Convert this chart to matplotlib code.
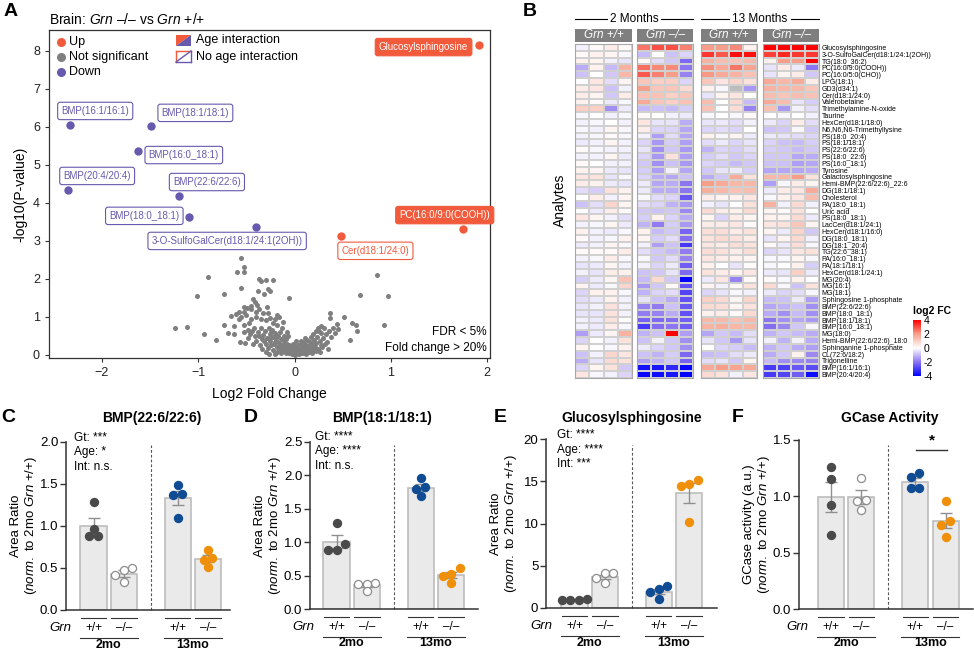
import numpy as np
import matplotlib
matplotlib.use('Agg')
import matplotlib.pyplot as plt
import matplotlib.transforms as mtransforms
from matplotlib.colors import LinearSegmentedColormap, Normalize
from matplotlib.cm import ScalarMappable
from matplotlib.patches import Rectangle, Polygon
from matplotlib.lines import Line2D

plt.rcParams['font.family'] = ['Liberation Sans', 'DejaVu Sans']
plt.rcParams['mathtext.fontset'] = 'custom'
plt.rcParams['mathtext.rm'] = 'Liberation Sans'
plt.rcParams['mathtext.it'] = 'Liberation Sans:italic'
plt.rcParams['mathtext.bf'] = 'Liberation Sans:bold'

# ---------------- data: volcano (A) ----------------
HIT_NAMES = ['Glucosylsphingosine', 'BMP(16:1/16:1)', 'BMP(18:1/18:1)', 'BMP(16:0_18:1)',
             'BMP(20:4/20:4)', 'BMP(22:6/22:6)', 'BMP(18:0_18:1)',
             '3-O-SulfoGalCer(d18:1/24:1(2OH))', 'Cer(d18:1/24:0)', 'PC(16:0/9:0(COOH))']
HIT_LOG2FC = [1.92, -2.33, -1.49, -1.63, -2.35, -1.20, -1.10, -0.40, 0.48, 1.75]
HIT_NLOGP = [8.15, 6.05, 6.03, 5.37, 4.34, 4.18, 3.63, 3.37, 3.13, 3.32]
HIT_DIR = ['up', 'down', 'down', 'down', 'down', 'down', 'down', 'down', 'up', 'up']
HIT_AGE = [True, False, False, False, False, False, False, False, False, True]

GRAY_POINTS = [
    (-0.56, 2.55), (-0.52, 2.32), (-0.60, 2.19), (-0.53, 2.19), (-0.90, 2.04), (-0.37, 2.01),
    (-0.35, 1.95), (-0.30, 1.97), (-0.22, 1.97), (0.86, 2.10), (-0.56, 1.76), (-0.38, 1.69),
    (-0.28, 1.73), (-0.25, 1.69), (-0.32, 1.61), (-1.01, 1.55), (-0.73, 1.61), (-0.06, 1.49),
    (0.68, 1.57), (0.97, 1.54), (-0.43, 1.46), (-0.41, 1.40), (-0.45, 1.30), (-0.49, 1.23),
    (-0.52, 1.27), (-0.39, 1.31), (-0.29, 1.25), (-0.37, 1.22), (-0.58, 1.13), (-0.52, 1.13),
    (-0.45, 1.22), (-0.40, 1.13), (-0.33, 1.10), (-0.28, 1.10), (-0.66, 1.02), (-0.61, 1.07),
    (-0.56, 1.00), (-0.50, 1.04), (-0.45, 0.95), (-0.40, 1.00), (-0.35, 0.95), (-0.30, 0.92),
    (-0.26, 0.97), (-0.18, 1.04), (-0.16, 0.99), (0.37, 1.11), (0.37, 0.96), (0.51, 1.00),
    (0.44, 0.82), (0.60, 0.83), (0.64, 0.80), (0.65, 0.64), (0.93, 0.78), (0.58, 0.39),
    (-1.24, 0.70), (-1.12, 0.74), (-0.94, 0.55), (-0.82, 0.40), (-0.73, 0.80), (-0.63, 0.77),
    (-0.69, 0.59), (-0.63, 0.55), (-0.52, 0.80), (-0.48, 0.66), (-0.57, 0.35), (-0.51, 0.31),
    (-0.46, 0.55), (-0.41, 0.49), (-0.42, 0.72), (-0.38, 0.60), (-0.35, 0.70), (-0.33, 0.52),
    (-0.31, 0.62), (-0.29, 0.45), (-0.27, 0.72), (-0.26, 0.55), (-0.25, 0.38), (-0.23, 0.66),
    (-0.22, 0.48), (-0.21, 0.30), (-0.20, 0.58), (-0.19, 0.40), (-0.18, 0.22), (-0.17, 0.50),
    (-0.16, 0.32), (-0.15, 0.15), (-0.14, 0.42), (-0.13, 0.26), (-0.12, 0.10), (-0.11, 0.36),
    (-0.10, 0.20), (-0.09, 0.06), (-0.08, 0.30), (-0.07, 0.15), (-0.06, 0.04), (-0.05, 0.22),
    (-0.04, 0.10), (-0.03, 0.02), (-0.02, 0.16), (-0.01, 0.06), (0.00, 0.01), (0.01, 0.12),
    (0.02, 0.04), (0.03, 0.20), (0.04, 0.08), (0.05, 0.02), (0.06, 0.15), (0.07, 0.28),
    (0.08, 0.06), (0.09, 0.20), (0.10, 0.10), (0.11, 0.30), (0.12, 0.03), (0.13, 0.16),
    (0.14, 0.24), (0.15, 0.08), (0.16, 0.34), (0.17, 0.18), (0.18, 0.28), (0.19, 0.12),
    (0.20, 0.40), (0.21, 0.22), (0.22, 0.32), (0.23, 0.48), (0.24, 0.16), (0.25, 0.62),
    (0.26, 0.38), (0.27, 0.26), (0.28, 0.58), (0.30, 0.45), (0.31, 0.70), (0.33, 0.55),
    (0.34, 0.35), (0.36, 0.62), (0.38, 0.48), (0.40, 0.72), (-0.40, 0.38), (-0.36, 0.25),
    (-0.34, 0.42), (-0.30, 0.30), (-0.28, 0.18), (-0.24, 0.26), (-0.22, 0.12), (-0.20, 0.34),
    (-0.18, 0.08), (-0.16, 0.24), (-0.14, 0.05), (-0.12, 0.18), (-0.10, 0.30), (-0.08, 0.12),
    (-0.06, 0.26), (-0.05, 0.08), (-0.03, 0.12), (-0.01, 0.20), (0.01, 0.03), (0.03, 0.10),
    (0.05, 0.12), (0.08, 0.14), (0.10, 0.04), (0.12, 0.22), (0.14, 0.10), (-0.44, 0.62),
    (-0.37, 0.50), (-0.32, 0.36), (-0.26, 0.44), (-0.24, 0.60), (-0.19, 0.50), (-0.15, 0.60),
    (-0.11, 0.50), (-0.09, 0.42), (-0.07, 0.50), (-0.02, 0.30), (0.00, 0.24), (0.02, 0.36),
    (0.04, 0.26), (0.07, 0.38), (0.09, 0.34), (0.11, 0.44), (0.13, 0.40), (0.17, 0.46),
    (0.19, 0.55), (0.22, 0.62), (0.24, 0.72), (0.27, 0.76), (-0.22, 0.85), (-0.18, 0.78),
    (-0.13, 0.72), (-0.12, 0.88), (-0.20, 0.95), (-0.08, 0.60), (0.29, 0.20), (0.32, 0.28),
    (0.35, 0.15), (0.42, 0.58), (0.45, 0.68), (0.26, 0.08), (-0.34, 0.15), (-0.30, 0.08),
    (-0.27, 0.02), (-0.20, 0.02), (0.18, 0.04), (0.22, 0.10), (-0.58, 0.95), (-0.47, 0.85),
    (-0.53, 0.60), (-0.48, 0.45), (-0.43, 0.28),
]

# ---------------- data: heatmap (B) ----------------
ANALYTES = ['Glucosylsphingosine', '3-O-SulfoGalCer(d18:1/24:1(2OH))', 'TG(18:0_36:2)',
            'PC(16:0/9:0(COOH))', 'PC(16:0/5:0(CHO))', 'LPG(18:1)', 'GD3(d34:1)', 'Cer(d18:1/24:0)',
            'Valerobetaine', 'Trimethylamine-N-oxide', 'Taurine', 'HexCer(d18:1/18:0)',
            'N6,N6,N6-Trimethyllysine', 'PS(18:0_20:4)', 'PS(18:1/18:1)', 'PS(22:6/22:6)',
            'PS(18:0_22:6)', 'PS(16:0_18:1)', 'Tyrosine', 'Galactosylsphingosine',
            'Hemi-BMP(22:6/22:6)_22:6', 'DG(18:1/18:1)', 'Cholesterol', 'PA(18:0_18:1)', 'Uric acid',
            'PS(18:0_18:1)', 'LacCer(d18:1/24:1)', 'HexCer(d18:1/16:0)', 'DG(18:0_18:1)',
            'DG(18:1_20:4)', 'TG(22:6_38:1)', 'PA(16:0_18:1)', 'PA(18:1/18:1)', 'HexCer(d18:1/24:1)',
            'MG(20:4)', 'MG(16:1)', 'MG(18:1)', 'Sphingosine 1-phosphate', 'BMP(22:6/22:6)',
            'BMP(18:0_18:1)', 'BMP(18:1/18:1)', 'BMP(16:0_18:1)', 'MG(18:0)',
            'Hemi-BMP(22:6/22:6)_18:0', 'Sphinganine 1-phosphate', 'CL(72:6/18:2)', 'Trigonelline',
            'BMP(16:1/16:1)', 'BMP(20:4/20:4)']
GROUP_HEADERS = ['Grn +/+', 'Grn \u2013/\u2013', 'Grn +/+', 'Grn \u2013/\u2013']
AGE_HEADERS = ['2 Months', '13 Months']
nan = np.nan
# columns: 2mo WT x4 | 2mo KO x4 | 13mo WT x4 | 13mo KO x4  (log2 FC)
LOG2FC = [
    [-0.2, 0.1, 0.4, 0.1, 2.5, 3.0, 3.0, 2.4, 2.0, 2.0, 2.3, 0.3, 4.0, 4.0, 4.0, 4.0],
    [0.1, 0.3, 0.2, -0.1, -1.0, 0.0, -0.9, -0.6, 3.3, 2.9, 3.8, 3.8, 3.2, 3.5, 3.3, 3.3],
    [0.3, 0.2, -0.2, -0.4, 0.1, -0.5, -0.8, -2.2, 1.6, 1.4, 1.3, 1.5, 0.3, 2.0, 2.0, 4.0],
    [-1.2, 0.3, -1.0, 1.6, 2.6, 2.3, 2.3, -2.0, 2.2, 1.8, 2.5, 1.9, -0.4, 0.4, -0.3, -2.0],
    [-0.9, 0.0, -0.8, 1.5, 2.9, 2.4, 2.0, -1.8, 2.1, 1.8, 1.6, 1.3, -0.4, 0.2, 0.4, -0.8],
    [0.0, 0.5, -0.5, 0.2, 1.2, 1.0, 1.0, -0.6, 1.2, 0.5, 0.9, 0.6, 1.8, 1.5, 1.8, 0.4],
    [0.4, 0.5, -0.9, -0.2, 2.0, 1.2, 1.2, 0.8, 0.3, -0.1, nan, -1.5, 1.6, 1.5, 1.5, 1.2],
    [0.4, 0.2, -0.8, 0.4, 1.3, 1.3, 1.0, 1.2, -0.4, 0.2, 0.5, 0.0, 1.4, 1.2, 1.4, 1.3],
    [0.3, 0.1, -0.3, -0.1, 1.8, 1.2, 1.0, 1.3, 1.4, 0.0, 0.8, -1.0, 1.8, 1.4, -0.4, -0.7],
    [1.0, 1.0, -1.6, -0.3, -1.0, -0.9, -1.0, -0.7, 1.3, 0.0, 0.7, -1.8, 1.3, -1.5, -0.2, -0.5],
    [-0.1, 0.0, -0.2, -0.1, 0.1, 0.0, -0.2, -0.3, -0.1, 0.0, -0.1, 0.1, 0.0, -0.1, 0.0, -0.2],
    [-0.2, -0.1, 0.0, -0.2, 0.5, -0.4, -0.4, -1.2, -0.4, -0.3, -0.5, -0.2, -0.3, -0.6, 0.4, -0.5],
    [-0.1, -0.2, 0.2, -0.1, 0.4, -0.6, -0.6, -1.3, -0.6, -0.5, -0.6, 0.0, -0.9, -0.8, -0.1, -0.8],
    [-0.2, -0.1, 0.1, -0.1, -0.2, -1.4, -0.5, -1.3, 0.3, -0.1, 0.2, -0.3, -0.3, -0.4, -0.5, -0.6],
    [-0.3, -0.2, 0.2, -0.2, -0.6, -1.5, -0.7, -1.4, -0.5, -0.3, -0.6, -0.4, -0.6, -0.9, -1.0, -0.7],
    [0.1, -0.1, -0.2, -0.2, -0.4, -1.6, -0.8, -1.5, -1.1, -0.6, -0.7, -0.5, -0.7, -0.8, -1.0, -0.8],
    [-0.2, -0.2, 0.2, -0.3, -0.6, -1.5, 0.6, -1.4, -0.7, -0.5, -0.8, -0.6, -0.8, -0.8, -1.3, -1.2],
    [0.1, 0.0, -0.2, -0.2, -0.8, -1.6, -0.9, -1.5, -0.6, -0.7, -1.0, -0.8, -0.9, -0.9, -1.4, -1.3],
    [0.3, 0.2, -0.3, -0.4, -0.7, -1.4, -0.2, -1.3, -0.8, -0.4, -0.3, -0.7, -1.3, -1.3, -1.3, -1.2],
    [0.5, 0.6, -0.4, -0.1, -0.6, -1.2, -1.3, -0.9, -1.2, -0.8, 1.8, 0.6, 1.5, 1.5, 2.0, 0.6],
    [0.4, 0.3, -0.3, -0.4, -0.3, -1.3, -1.2, -2.0, 2.0, 1.8, 1.5, 1.5, -1.4, -0.1, 0.4, 0.2],
    [-0.5, -0.7, 0.6, 0.3, -0.3, -1.2, -1.2, -2.0, 1.7, 1.5, 1.3, 1.4, -0.3, 0.4, 0.5, 1.8],
    [0.0, 0.4, -0.2, 0.2, -0.1, -0.5, -0.6, -2.5, 0.4, 0.2, 0.3, 0.5, -0.1, 0.3, 0.5, 1.4],
    [-0.9, -0.5, 0.9, 0.2, -0.5, -0.6, -1.1, -1.5, -0.2, -0.4, 0.0, 0.6, 1.6, -0.2, 0.8, -0.2],
    [0.0, -0.3, 0.4, 0.1, -0.8, -0.9, -0.8, -1.7, 0.8, 0.4, 0.3, 0.8, 0.2, 0.1, 0.6, 0.0],
    [0.5, 0.2, -0.2, -0.5, -0.7, 0.3, -0.6, -1.2, 0.2, -0.6, 0.4, 0.2, 0.3, 0.2, 0.8, -0.3],
    [-0.2, -0.1, 0.2, -0.3, -1.1, -1.9, -0.7, -1.5, 0.4, 0.4, 0.5, 0.1, 0.5, 0.6, 1.2, 0.2],
    [0.3, -0.2, -0.3, -0.1, 0.3, -1.0, -0.8, -2.3, 0.7, 0.7, 0.4, 0.6, 0.2, -0.3, 0.9, -0.8],
    [0.1, -0.2, -0.1, 0.3, 0.2, -0.7, -0.5, -2.1, 0.6, 0.8, 0.6, 0.4, -0.4, 0.2, 0.8, -0.2],
    [-0.3, -0.2, 0.2, -0.1, -0.2, -1.4, -0.9, -3.0, 0.5, 0.4, 0.7, 0.6, 0.1, -0.3, 0.7, -0.1],
    [0.1, 0.1, 0.1, 0.4, -0.5, -0.8, -1.0, -1.9, 0.7, 0.6, 0.4, 0.7, -0.6, -0.4, 0.5, 0.6],
    [-0.2, -0.1, 0.4, -0.1, -0.1, -0.8, -0.5, -1.8, 0.5, 0.4, 0.3, 0.2, -0.1, -0.1, 0.2, -0.1],
    [-0.4, -0.3, 0.2, -0.2, -0.2, -0.6, -0.3, -2.4, 0.3, 0.0, -0.4, 0.1, -0.1, 0.0, 0.3, -0.7],
    [-0.2, -0.4, 0.4, 0.3, -0.9, -0.8, -0.4, -2.2, 0.6, 0.4, 0.2, 0.5, -0.3, -0.4, 1.0, -0.3],
    [-0.7, -0.3, 0.2, 1.3, -1.0, 0.8, -0.8, -4.0, -0.3, 0.5, -1.8, 0.1, 0.1, -0.1, 0.3, 0.0],
    [0.2, -0.3, -0.1, 0.9, -1.5, -0.8, 0.1, -2.6, 0.2, -0.2, 0.1, 0.6, 0.8, -0.1, -0.9, 0.6],
    [-0.6, 0.3, 0.3, -0.1, -1.1, -0.6, -0.5, -2.8, -0.6, -0.4, -0.1, -0.2, -0.3, -0.6, -0.5, -0.1],
    [-0.5, -0.3, 0.3, -0.2, -0.4, -0.9, -1.2, -2.6, 1.0, 0.8, 0.2, 0.9, -1.0, -0.9, -0.3, -1.4],
    [-0.4, -0.2, 0.6, -0.2, -1.8, -1.9, -0.9, -2.5, 0.8, 0.7, 0.2, 0.6, -1.3, -1.1, -0.9, -1.6],
    [-0.4, -0.4, 0.6, -0.2, -1.9, -1.8, -1.2, -2.6, 0.3, 0.4, 0.1, 0.8, -1.2, -1.6, -1.0, -1.6],
    [-0.2, -0.3, 0.6, 0.0, -2.3, -2.2, -2.1, -2.4, 1.5, 1.5, 1.3, 1.5, -2.0, -1.6, -1.3, -1.5],
    [-0.2, -0.3, 0.4, -0.1, -3.0, -2.1, -2.0, -2.4, 1.6, 1.7, 1.5, 1.5, -2.1, -1.7, -0.8, -0.1],
    [-1.4, -0.3, 0.2, 1.6, -1.1, -0.9, 4.0, -1.4, -1.3, -0.8, -1.0, -0.5, -1.1, -0.8, -1.0, -1.2],
    [-0.6, 0.0, -0.2, 0.6, -0.9, -0.2, -0.8, -1.6, -0.4, -0.8, -1.5, -0.4, -0.2, -1.1, -0.2, -1.2],
    [0.2, 0.0, -0.1, 0.3, -0.3, -0.6, -0.8, -1.6, 0.0, -0.6, -0.7, -1.0, -1.1, -0.8, -1.2, -1.4],
    [-0.9, -0.2, 0.9, 0.5, -0.9, -1.1, -0.7, -2.2, -1.0, -0.9, -0.5, -0.3, -1.2, -0.8, 0.3, -1.7],
    [-1.2, -0.4, 0.8, 0.6, -1.4, -1.1, -0.8, -2.3, -0.5, -0.4, -0.8, 0.2, -1.0, -1.6, -1.7, -1.8],
    [-0.6, 0.2, 0.6, -0.8, -3.7, -3.6, -3.3, -3.9, 1.8, 2.0, 1.9, 1.8, -3.0, -2.9, -2.5, -2.7],
    [0.5, -0.1, -0.2, -0.6, -3.9, -3.8, -3.6, -4.0, 0.8, 0.6, -0.2, 0.5, -3.0, -2.8, -2.4, -3.8],
]

# ---------------- data: bar panels (C-F), order: 2mo +/+, 2mo -/-, 13mo +/+, 13mo -/- ----------------
BMP226 = [[1.28, 0.97, 0.88, 0.88], [0.50, 0.48, 0.42, 0.33],
          [1.49, 1.38, 1.37, 1.10], [0.72, 0.62, 0.60, 0.51]]
BMP181 = [[1.29, 0.97, 0.88, 0.88], [0.39, 0.38, 0.37, 0.27],
          [1.96, 1.83, 1.79, 1.69], [0.61, 0.53, 0.50, 0.39]]
GLCSPH = [[1.02, 0.99, 1.00, 0.98], [4.10, 4.10, 3.60, 2.90],
          [2.60, 1.90, 2.20, 1.05], [15.1, 14.4, 14.7, 10.2]]
GCASE = [[1.26, 1.15, 0.92, 0.66], [1.16, 0.97, 0.96, 0.88],
         [1.17, 1.21, 1.07, 1.07], [0.96, 0.78, 0.75, 0.64]]
GENOTYPES = ['+/+', '\u2013/\u2013', '+/+', '\u2013/\u2013']
AGES = ['2mo', '13mo']

# ---------------- layout helpers ----------------
W, H = 974, 651
fig = plt.figure(figsize=(W / 100, H / 100), dpi=100)


def fbox(x0, y0, x1, y1):
    return [x0 / W, 1 - y1 / H, (x1 - x0) / W, (y1 - y0) / H]


def fy(py):
    return 1 - py / H


RED = '#F25A3C'
PURPLE = '#6659AE'
GRAY = '#7F7F7F'
DARK = '#333333'

# ================= Panel A: volcano =================
axA = fig.add_axes(fbox(49, 30, 490, 358))
gx = [p[0] for p in GRAY_POINTS]
gy = [p[1] for p in GRAY_POINTS]
axA.scatter(gx, gy, s=13, color=GRAY, linewidths=0, zorder=2)

label_pos = [(1.34, 8.10), (-2.07, 6.42), (-1.03, 6.37), (-1.15, 5.26), (-2.05, 4.71),
             (-0.91, 4.55), (-1.56, 3.66), (-0.70, 3.00), (0.84, 2.74), (1.56, 3.68)]
for name, x, y, d, age, (lx, ly) in zip(HIT_NAMES, HIT_LOG2FC, HIT_NLOGP, HIT_DIR, HIT_AGE, label_pos):
    col = RED if d == 'up' else PURPLE
    axA.scatter(x, y, s=36, color=col, linewidths=0, zorder=3)
    if age:
        bb = dict(boxstyle='round,pad=0.38,rounding_size=0.25', fc=col, ec=col, lw=0.8)
        tc = 'white'
    else:
        bb = dict(boxstyle='round,pad=0.38,rounding_size=0.25', fc='white', ec=col, lw=0.8)
        tc = col
    axA.text(lx, ly, name, ha='center', va='center', fontsize=7, color=tc, bbox=bb,
             zorder=4, clip_on=False)

axA.set_xlim(-2.55, 2.03)
axA.set_ylim(-0.08, 8.55)
axA.set_xticks([-2, -1, 0, 1, 2])
axA.set_yticks(range(0, 9))
axA.tick_params(labelsize=9, length=3, width=0.8, color=DARK, labelcolor='#222222')
for sp in axA.spines.values():
    sp.set_color(DARK)
    sp.set_linewidth(0.9)
axA.set_xlabel('Log2 Fold Change', fontsize=10, labelpad=6)
axA.set_ylabel('-log10(P-value)', fontsize=10, labelpad=4)


# legend (manual)
def a_frac(px, py):
    return ((px - 49) / 441, (358 - py) / 328)


for (lab, col, py) in [('Up', RED, 42), ('Not significant', GRAY, 57), ('Down', PURPLE, 72)]:
    axA.scatter(*a_frac(61, py), s=30, color=col, transform=axA.transAxes, clip_on=False, zorder=5)
    axA.text(*a_frac(69, py), lab, fontsize=9, va='center', ha='left', transform=axA.transAxes)

x0, x1 = 176, 191
p = [a_frac(x0, 46), a_frac(x0, 35), a_frac(x1, 35)]
axA.add_patch(Polygon(p, closed=True, fc=RED, ec='none', transform=axA.transAxes, clip_on=False))
p = [a_frac(x0, 46), a_frac(x1, 35), a_frac(x1, 46)]
axA.add_patch(Polygon(p, closed=True, fc=PURPLE, ec='none', transform=axA.transAxes, clip_on=False))
for (xa, ya, xb, yb, c) in [(x0, 62, x0, 51, RED), (x0, 51, x1, 51, RED), (x1, 51, x1, 62, PURPLE),
                            (x1, 62, x0, 62, PURPLE), (x0, 62, x1, 51, PURPLE)]:
    fa, fb = a_frac(xa, ya), a_frac(xb, yb)
    axA.add_line(Line2D([fa[0], fb[0]], [fa[1], fb[1]], color=c, lw=1.0,
                        transform=axA.transAxes, clip_on=False))
axA.text(*a_frac(196, 40), 'Age interaction', fontsize=9, va='center', transform=axA.transAxes)
axA.text(*a_frac(196, 57), 'No age interaction', fontsize=9, va='center', transform=axA.transAxes)

axA.text(*a_frac(487, 332), 'FDR < 5%', fontsize=8.5, ha='right', va='center', transform=axA.transAxes)
axA.text(*a_frac(487, 348), 'Fold change > 20%', fontsize=8.5, ha='right', va='center',
         transform=axA.transAxes)

fig.text(49 / W, fy(20), 'Brain: $\\it{Grn}$ \u2013/\u2013 vs $\\it{Grn}$ +/+',
         fontsize=10, ha='left', va='center')
fig.text(4 / W, fy(11), 'A', fontsize=14, fontweight='bold', ha='left', va='center')

# ================= Panel B: heatmap =================
fig.text(523 / W, fy(11), 'B', fontsize=14, fontweight='bold', ha='left', va='center')
cmap = LinearSegmentedColormap.from_list(
    'fc', [(0, '#0000FF'), (0.25, '#8C74F0'), (0.5, '#FFFFFF'), (0.75, '#F7A08C'), (1, '#FF0000')])
cmap.set_bad('#BDBDBD')
norm = Normalize(-4, 4)
M = np.array(LOG2FC, dtype=float)
nrow = M.shape[0]
block_x = [(575, 632), (637, 693), (701, 757), (763, 819)]
for b, (bx0, bx1) in enumerate(block_x):
    ax = fig.add_axes(fbox(bx0, 44, bx1, 378))
    data = np.ma.masked_invalid(M[:, 4 * b:4 * b + 4])
    ax.pcolormesh(np.arange(5), np.arange(nrow + 1), data, cmap=cmap, norm=norm,
                  edgecolors='#D0D0D0', linewidth=0.35)
    ax.set_xlim(0, 4)
    ax.set_ylim(nrow, 0)
    ax.set_xticks([])
    for sp in ax.spines.values():
        sp.set_color('#A8A8A8')
        sp.set_linewidth(0.8)
    if b == 3:
        ax.yaxis.tick_right()
        ax.set_yticks(np.arange(nrow) + 0.5)
        ax.set_yticklabels(ANALYTES, fontsize=5)
        ax.tick_params(axis='y', length=0, pad=2)
    else:
        ax.set_yticks([])
    # header
    fig.patches.append(Rectangle((bx0 / W, fy(42)), (bx1 - bx0) / W, 13 / H, transform=fig.transFigure,
                                 fc='#7F7F7F', ec='none'))
    fig.text((bx0 + bx1) / 2 / W, fy(35.5), GROUP_HEADERS[b], color='white', fontsize=8.5,
             fontstyle='italic', ha='center', va='center')

for (gx0, gx1), lab in zip([(575, 693), (701, 819)], AGE_HEADERS):
    cx = (gx0 + gx1) / 2
    half = 27 if lab.startswith('2') else 31
    for (a, c) in [(gx0, cx - half), (cx + half, gx1)]:
        fig.add_artist(Line2D([a / W, c / W], [fy(19), fy(19)], color='black', lw=0.8,
                              transform=fig.transFigure))
    fig.text(cx / W, fy(19), lab, fontsize=8.5, ha='center', va='center')

fig.text(560 / W, fy(200), 'Analytes', fontsize=10, rotation=90, ha='center', va='center')

cax = fig.add_axes(fbox(913, 320, 921, 376))
cb = fig.colorbar(ScalarMappable(norm=norm, cmap=cmap), cax=cax, ticks=[4, 2, 0, -2, -4])
cb.set_ticklabels(['4', '2', '0', '-2', '-4'])
cb.outline.set_visible(False)
cax.tick_params(length=0, labelsize=7.5, pad=2)
fig.text(913 / W, fy(311), 'log2 FC', fontsize=7.5, fontweight='bold', ha='left', va='center')

# ================= Panels C-F: bars =================
PXU = 30.3
BAR_POS = np.array([0, 1, 2.78, 3.78])
STYLES = [dict(fc='#4A4A4A', ec='#4A4A4A'), dict(fc='white', ec='#8C8C8C'),
          dict(fc='#0F4C93', ec='#0F4C93'), dict(fc='#F0900A', ec='#F0900A')]


def swarm(ax, vals, x):
    py = ax.transData.transform(np.column_stack([np.full(len(vals), x), vals]))[:, 1]
    order = np.argsort(-py)
    offs = np.zeros(len(vals))
    clusters, cur = [], [order[0]]
    for i in order[1:]:
        if abs(py[cur[0]] - py[i]) < 7.5:
            cur.append(i)
        else:
            clusters.append(cur)
            cur = [i]
    clusters.append(cur)
    for cl in clusters:
        n = len(cl)
        for k, i in enumerate(sorted(cl, key=lambda j: py[j])):
            offs[i] = (k - (n - 1) / 2) * 8.5 / PXU
    return offs


panels = [
    dict(letter='C', lx=8, title='BMP(22:6/22:6)', tx=152, box=(66, 442, 230, 610), c1=93.5,
         ylim=(0, 2.0), yticks=[0, 0.5, 1.0, 1.5, 2.0], fmt='{:.1f}', vals=BMP226,
         stats=['Gt: ***', 'Age: *', 'Int: n.s.'], sx=74, sy=[438, 452, 467], yl='Area Ratio'),
    dict(letter='D', lx=251, title='BMP(18:1/18:1)', tx=382, box=(310, 442, 478, 609), c1=336.5,
         ylim=(0, 2.5), yticks=[0, 0.5, 1.0, 1.5, 2.0, 2.5], fmt='{:.1f}', vals=BMP181,
         stats=['Gt: ****', 'Age: ****', 'Int: n.s.'], sx=315, sy=[437, 451, 466], yl='Area Ratio'),
    dict(letter='E', lx=500, title='Glucosylsphingosine', tx=632, box=(546, 439, 717, 608), c1=574.5,
         ylim=(0, 20), yticks=[0, 5, 10, 15, 20], fmt='{:.0f}', vals=GLCSPH,
         stats=['Gt: ****', 'Age: ****', 'Int: ***'], sx=557, sy=[435, 450, 464], yl='Area Ratio'),
    dict(letter='F', lx=738, title='GCase Activity', tx=890, box=(799, 440, 973, 609), c1=831,
         ylim=(0, 1.5), yticks=[0, 0.5, 1.0, 1.5], fmt='{:.1f}', vals=GCASE,
         stats=[], sx=0, sy=[], yl='GCase activity (a.u.)'),
]

for P in panels:
    x0, y0, x1, y1 = P['box']
    ax = fig.add_axes(fbox(x0, y0, x1, y1))
    ax.set_xlim((x0 - P['c1']) / PXU, (x1 - P['c1']) / PXU)
    ax.set_ylim(*P['ylim'])
    ax.set_yticks(P['yticks'])
    ax.set_yticklabels([P['fmt'].format(t) for t in P['yticks']])
    ax.set_xticks([])
    for s in ['top', 'right']:
        ax.spines[s].set_visible(False)
    for s in ['left', 'bottom']:
        ax.spines[s].set_color(DARK)
        ax.spines[s].set_linewidth(1.1)
    ax.tick_params(axis='y', length=4, width=1.0, color=DARK, labelsize=9.5, pad=1.5)

    for pos, v, st in zip(BAR_POS, P['vals'], STYLES):
        v = np.array(v)
        m = v.mean()
        se = v.std(ddof=1) / np.sqrt(len(v))
        ax.bar(pos, m, width=0.86, color='#EAEAEA', edgecolor='#BDBDBD', linewidth=1.2, zorder=1)
        ax.errorbar(pos, m, yerr=se, color='#8F8F8F', lw=1.0, capsize=4.5, capthick=1.0, zorder=2)
        offs = swarm(ax, v, pos)
        ax.scatter(pos + offs, v, s=34, facecolor=st['fc'], edgecolor=st['ec'], linewidths=0.9,
                   zorder=3, clip_on=False)

    # dashed separator
    ytop = (y1 - 445) / (y1 - y0)
    ax.plot([1.89, 1.89], [0, ytop],
            transform=mtransforms.blended_transform_factory(ax.transData, ax.transAxes),
            color='#555555', lw=0.8, ls=(0, (2.5, 1.8)), zorder=0, clip_on=False)

    # texts
    fig.text(P['lx'] / W, fy(418), P['letter'], fontsize=14, fontweight='bold', ha='center', va='center')
    fig.text(P['tx'] / W, fy(418), P['title'], fontsize=10, fontweight='bold', ha='center', va='center')
    for t, sy in zip(P['stats'], P['sy']):
        fig.text(P['sx'] / W, fy(sy), t, fontsize=8.5, ha='left', va='center')
    ymid = (y0 + y1) / 2
    fig.text((x0 - 50) / W, fy(ymid), P['yl'], fontsize=9.5, rotation=90, ha='center', va='center')
    fig.text((x0 - 35) / W, fy(ymid), r'($\it{norm.}$ to 2mo $\it{Grn}$ +/+)', fontsize=9.5,
             rotation=90, ha='center', va='center')

    # genotype / age annotations below axis
    tr = mtransforms.blended_transform_factory(ax.transData, fig.transFigure)
    ax.text(-1.1, fy(y1 + 18), 'Grn', fontsize=9.5, fontstyle='italic', ha='center', va='center',
            transform=tr)
    for pos, g in zip(BAR_POS, GENOTYPES):
        ax.add_line(Line2D([pos - 0.42, pos + 0.42], [fy(y1 + 8)] * 2, color=DARK, lw=0.8,
                           transform=tr, clip_on=False))
        ax.text(pos, fy(y1 + 18), g, fontsize=8.5, ha='center', va='center', transform=tr)
    for k, age in enumerate(AGES):
        a, b = BAR_POS[2 * k] - 0.46, BAR_POS[2 * k + 1] + 0.46
        ax.add_line(Line2D([a, b], [fy(y1 + 28)] * 2, color=DARK, lw=0.8, transform=tr, clip_on=False))
        ax.text((a + b) / 2, fy(y1 + 34.5), age, fontsize=9, fontweight='bold', ha='center',
                va='center', transform=tr)

    if P['letter'] == 'F':
        ax.plot([2.82, 3.84], [1.41, 1.41], color=DARK, lw=1.0, clip_on=False)
        ax.text(3.33, 1.43, '*', fontsize=11, fontweight='bold', ha='center', va='bottom')

fig.savefig('out.png', dpi=100)
